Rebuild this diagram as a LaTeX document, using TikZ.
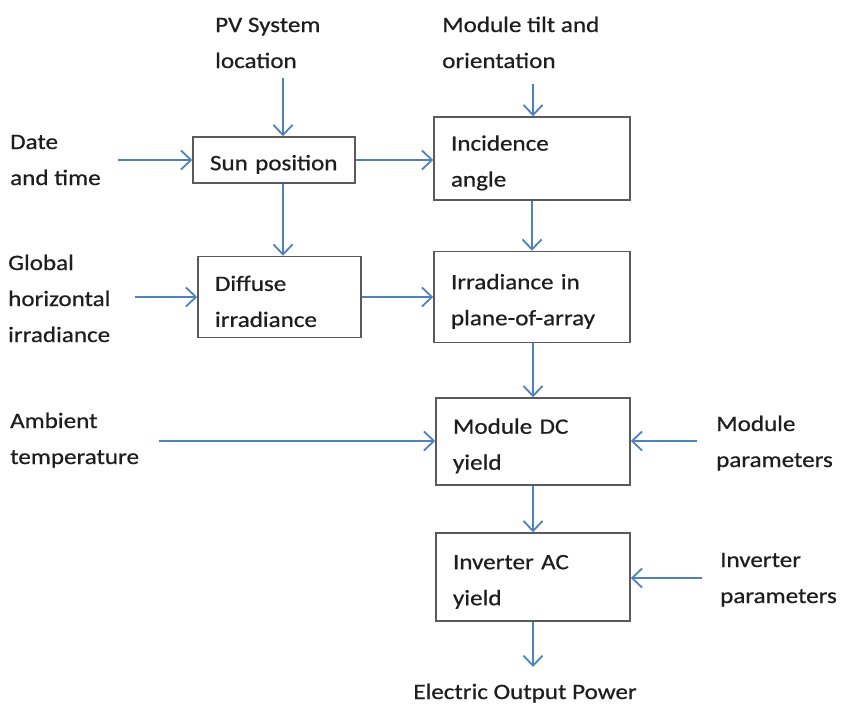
\documentclass[tikz,border=0pt]{standalone}
\usepackage{fontspec}
\setmainfont{Carlito}[FakeStretch=1.14,FakeBold=0.6]
\usetikzlibrary{arrows.meta}
\definecolor{flowblue}{HTML}{4F81BD}
\definecolor{boxgray}{HTML}{5A5A5A}
\definecolor{inkgray}{HTML}{1E1E1E}
\begin{document}
\begin{tikzpicture}[x=1pt,y=-1pt,
    every node/.style={font=\fontsize{22}{36}\selectfont,text=inkgray},
    box/.style={draw=boxgray,line width=1.5pt,fill=white,align=left,inner xsep=17pt,inner ysep=0pt,
        execute at begin node={\rule{0pt}{24pt}}},
    flow/.style={flowblue,line width=1.8pt,-{Straight Barb[length=10pt,width=19pt]}},
    lbl/.style={anchor=base west,align=left,inner sep=0pt}]
    \useasboundingbox (0,0) rectangle (843,705);
    % blocks
    \node[box,minimum width=162pt,minimum height=46pt,text width=128pt] (sun) at (274,160) {Sun position};
    \node[box,minimum width=196pt,minimum height=83pt,text width=162pt] (inc) at (532,158.5) {Incidence\\angle};
    \node[box,minimum width=163pt,minimum height=81pt,text width=129pt] (dif) at (279.5,297) {Diffuse\\irradiance};
    \node[box,minimum width=196pt,minimum height=91pt,text width=162pt] (irr) at (532,297) {Irradiance in\\plane-of-array};
    \node[box,minimum width=194pt,minimum height=87pt,text width=160pt] (mod) at (533,441.5) {Module DC\\yield};
    \node[box,minimum width=194pt,minimum height=88pt,text width=160pt] (inv) at (533,577) {Inverter AC\\yield};
    % inputs (placed at the baseline of their last line)
    \node[lbl] (pv) at (215,68) {PV System\\location};
    \node[lbl] (tilt) at (442,68) {Module tilt and\\orientation};
    \node[lbl] (date) at (10,185) {Date\\and time};
    \node[lbl] (ghi) at (8,342) {Global\\horizontal\\irradiance};
    \node[lbl] (amb) at (10,464) {Ambient\\temperature};
    \node[lbl] (modp) at (716,467) {Module\\parameters};
    \node[lbl] (invp) at (720,603) {Inverter\\parameters};
    \node[anchor=base,inner sep=0pt] (out) at (525,699) {Electric Output Power};
    % arrow tails
    \coordinate (pvend) at (283,78);
    \coordinate (tiltend) at (533,84);
    \coordinate (dateend) at (118,160);
    \coordinate (ghiend) at (135,297);
    \coordinate (ambend) at (159,441);
    \coordinate (modpend) at (697,441);
    \coordinate (invpend) at (702,578);
    \coordinate (outtip) at (533,667);
    % connectors
    \draw[flow] (pvend) -- (pvend |- sun.north);
    \draw[flow] (tiltend) -- (tiltend |- inc.north);
    \draw[flow] (dateend) -- (dateend -| sun.west);
    \draw[flow] (sun.east) -- (sun.east -| inc.west);
    \draw[flow] (sun.south -| pvend) -- (dif.north -| pvend);
    \draw[flow] (inc.south) -- (irr.north);
    \draw[flow] (ghiend) -- (ghiend -| dif.west);
    \draw[flow] (dif.east) -- (dif.east -| irr.west);
    \draw[flow] (irr.south -| mod) -- (mod.north);
    \draw[flow] (ambend) -- (ambend -| mod.west);
    \draw[flow] (modpend) -- (modpend -| mod.east);
    \draw[flow] (mod.south) -- (inv.north);
    \draw[flow] (invpend) -- (invpend -| inv.east);
    \draw[flow] (inv.south) -- (outtip);
\end{tikzpicture}
\end{document}
